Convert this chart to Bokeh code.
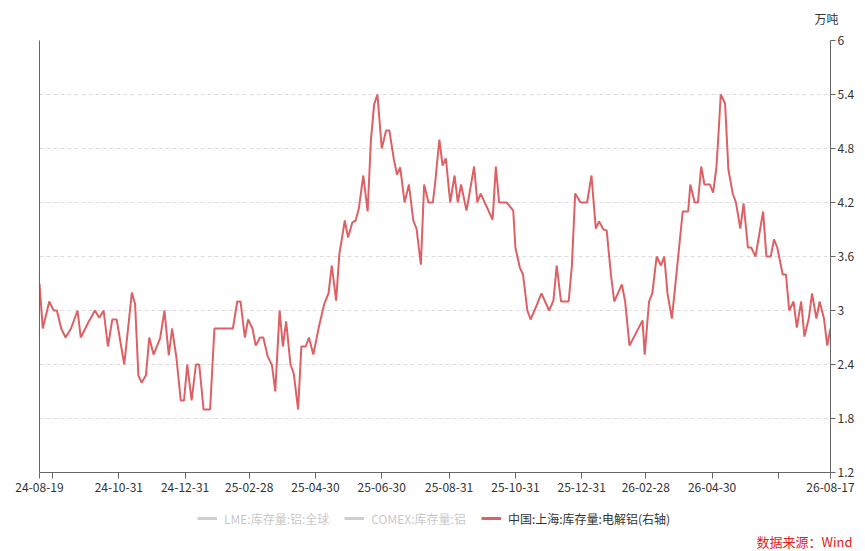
import pandas as pd
from bokeh.plotting import figure
from bokeh.layouts import column
from bokeh.models import (ColumnDataSource, Range1d, LinearAxis, FixedTicker,
                          Legend, LegendItem, Label, Grid)
from bokeh.embed import file_html
from bokeh.resources import INLINE

# ---------------- data ----------------
dates = [
    "2024-08-19", "2024-08-22", "2024-08-28", "2024-09-01", "2024-09-04", "2024-09-08",
    "2024-09-12", "2024-09-17", "2024-09-23", "2024-09-26", "2024-10-03", "2024-10-09",
    "2024-10-13", "2024-10-17", "2024-10-21", "2024-10-25", "2024-10-29", "2024-11-05",
    "2024-11-12", "2024-11-15", "2024-11-18", "2024-11-21", "2024-11-25", "2024-11-28",
    "2024-12-02", "2024-12-08", "2024-12-12", "2024-12-16", "2024-12-19", "2024-12-23",
    "2024-12-27", "2024-12-30", "2025-01-02", "2025-01-06", "2025-01-10", "2025-01-13",
    "2025-01-17", "2025-01-23", "2025-01-27", "2025-02-13", "2025-02-17", "2025-02-20",
    "2025-02-24", "2025-02-27", "2025-03-03", "2025-03-06", "2025-03-10", "2025-03-13",
    "2025-03-17", "2025-03-21", "2025-03-24", "2025-03-28", "2025-03-31", "2025-04-03",
    "2025-04-07", "2025-04-10", "2025-04-14", "2025-04-17", "2025-04-21", "2025-04-24",
    "2025-04-28", "2025-05-03", "2025-05-08", "2025-05-12", "2025-05-15", "2025-05-19",
    "2025-05-22", "2025-05-27", "2025-05-30", "2025-06-03", "2025-06-06", "2025-06-09",
    "2025-06-13", "2025-06-17", "2025-06-20", "2025-06-23", "2025-06-26", "2025-06-30",
    "2025-07-04", "2025-07-07", "2025-07-11", "2025-07-14", "2025-07-17", "2025-07-21",
    "2025-07-25", "2025-07-29", "2025-08-01", "2025-08-05", "2025-08-08", "2025-08-12",
    "2025-08-16", "2025-08-18", "2025-08-22", "2025-08-25", "2025-08-28", "2025-09-01",
    "2025-09-05", "2025-09-08", "2025-09-11", "2025-09-16", "2025-09-23", "2025-09-26",
    "2025-09-29", "2025-10-10", "2025-10-13", "2025-10-16", "2025-10-23", "2025-10-29",
    "2025-10-31", "2025-11-04", "2025-11-07", "2025-11-11", "2025-11-14", "2025-11-20",
    "2025-11-24", "2025-12-01", "2025-12-05", "2025-12-08", "2025-12-12", "2025-12-19",
    "2025-12-22", "2025-12-25", "2025-12-30", "2026-01-05", "2026-01-09", "2026-01-13",
    "2026-01-16", "2026-01-20", "2026-01-23", "2026-01-27", "2026-01-30", "2026-02-06",
    "2026-02-09", "2026-02-13", "2026-02-25", "2026-02-27", "2026-03-03", "2026-03-06",
    "2026-03-10", "2026-03-14", "2026-03-17", "2026-03-20", "2026-03-24", "2026-03-29",
    "2026-04-03", "2026-04-08", "2026-04-10", "2026-04-14", "2026-04-17", "2026-04-20",
    "2026-04-23", "2026-04-28", "2026-05-01", "2026-05-04", "2026-05-06", "2026-05-08",
    "2026-05-12", "2026-05-15", "2026-05-19", "2026-05-22", "2026-05-26", "2026-05-29",
    "2026-06-02", "2026-06-05", "2026-06-09", "2026-06-16", "2026-06-19", "2026-06-23",
    "2026-06-26", "2026-06-29", "2026-07-04", "2026-07-07", "2026-07-10", "2026-07-14",
    "2026-07-17", "2026-07-21", "2026-07-24", "2026-07-28", "2026-07-31", "2026-08-04",
    "2026-08-07", "2026-08-11", "2026-08-14", "2026-08-17",
]

shanghai_al = [
    3.30, 2.80, 3.10, 3.00, 3.00, 2.80, 2.70, 2.80, 3.00, 2.70, 2.87, 3.00,
    2.92, 3.00, 2.60, 2.90, 2.90, 2.40, 3.20, 3.07, 2.28, 2.20, 2.28, 2.70,
    2.51, 2.69, 3.00, 2.50, 2.80, 2.48, 2.00, 2.00, 2.40, 2.00, 2.40, 2.40,
    1.90, 1.90, 2.80, 2.80, 3.10, 3.10, 2.70, 2.90, 2.80, 2.61, 2.70, 2.70,
    2.49, 2.39, 2.10, 3.00, 2.60, 2.88, 2.40, 2.30, 1.90, 2.60, 2.60, 2.70,
    2.51, 2.81, 3.07, 3.19, 3.50, 3.11, 3.63, 4.00, 3.81, 3.98, 4.00, 4.14,
    4.50, 4.10, 4.89, 5.29, 5.40, 4.80, 5.00, 5.00, 4.69, 4.51, 4.59, 4.20,
    4.40, 4.00, 3.91, 3.51, 4.40, 4.20, 4.20, 4.40, 4.90, 4.61, 4.69, 4.20,
    4.50, 4.20, 4.40, 4.11, 4.60, 4.20, 4.30, 4.01, 4.60, 4.20, 4.20, 4.11,
    3.70, 3.48, 3.40, 3.00, 2.90, 3.07, 3.19, 3.00, 3.11, 3.50, 3.10, 3.10,
    3.50, 4.30, 4.20, 4.20, 4.50, 3.91, 3.99, 3.90, 3.89, 3.39, 3.10, 3.29,
    3.10, 2.61, 2.89, 2.51, 3.10, 3.19, 3.60, 3.50, 3.60, 3.19, 2.91, 3.50,
    4.10, 4.10, 4.40, 4.20, 4.20, 4.60, 4.40, 4.40, 4.31, 4.59, 4.98, 5.40,
    5.30, 4.57, 4.30, 4.20, 3.91, 4.19, 3.70, 3.70, 3.60, 4.10, 3.60, 3.60,
    3.79, 3.70, 3.40, 3.40, 3.00, 3.10, 2.81, 3.10, 2.71, 2.91, 3.19, 2.91,
    3.10, 2.91, 2.61, 2.80,
]

x_tick_dates = ["2024-08-19", "2024-08-31", "2024-10-31", "2024-12-31", "2025-02-28",
                "2025-04-30", "2025-06-30", "2025-08-31", "2025-10-31", "2025-12-31",
                "2026-02-28", "2026-04-30", "2026-06-30", "2026-08-17"]
x_tick_labels = ["24-08-19", "", "24-10-31", "24-12-31", "25-02-28",
                 "25-04-30", "25-06-30", "25-08-31", "25-10-31", "25-12-31",
                 "26-02-28", "26-04-30", "", "26-08-17"]

y_ticks = [1.2, 1.8, 2.4, 3.0, 3.6, 4.2, 4.8, 5.4, 6.0]
y_tick_labels = ["1.2", "1.8", "2.4", "3", "3.6", "4.2", "4.8", "5.4", "6"]

series_names = ["LME:库存量:铝:全球", "COMEX:库存量:铝", "中国:上海:库存量:电解铝(右轴)"]
series_visible = [False, False, True]   # LME and COMEX are switched off in the original
unit_text = "万吨"
source_text = "数据来源：Wind"

# ---------------- styling ----------------
FONT = "Noto Sans CJK SC"
RED = "#dd6164"
HIDDEN = "#555555"
AXIS = "#666666"
TEXT = "#333333"
W = 857
SHIFT = 39   # strip frames get aligned with the main chart's frame


def ms(d):
    return pd.Timestamp(d).value / 1e6


def blank_fig(h):
    f = figure(frame_width=W, frame_height=h, min_border=0,
               x_range=Range1d(0, W), y_range=Range1d(0, h),
               x_axis_location=None, y_axis_location=None,
               output_backend="svg", toolbar_location=None, tools="")
    f.outline_line_color = None
    f.grid.visible = False
    return f


src = ColumnDataSource(dict(x=pd.to_datetime(dates), y=shanghai_al))

# ---- top strip with unit ----
top = blank_fig(30)
top.add_layout(Label(x=826 - SHIFT, y=12, x_units="screen", y_units="screen",
                     text=unit_text, text_align="center",
                     text_baseline="middle", text_font=FONT,
                     text_font_size="12px", text_color=TEXT))

# ---- main chart ----
p = figure(frame_width=791, frame_height=432,
           min_border_left=39, min_border_right=27,
           min_border_top=10, min_border_bottom=30,
           x_axis_type="datetime", output_backend="svg",
           toolbar_location=None, tools="")
p.x_range = Range1d(pd.Timestamp(dates[0]), pd.Timestamp(dates[-1]))
p.y_range = Range1d(-1, 1)  # left axis (switched-off series)
p.extra_y_ranges = {"right": Range1d(1.2, 6.0)}
p.outline_line_color = None

la = p.yaxis[0]
la.ticker = FixedTicker(ticks=[])
la.axis_line_color = AXIS
la.major_tick_line_color = None
la.minor_tick_line_color = None
la.major_label_text_font_size = "0px"

ra = LinearAxis(y_range_name="right", ticker=FixedTicker(ticks=y_ticks))
ra.major_label_overrides = {t: l for t, l in zip(y_ticks, y_tick_labels)}
ra.axis_line_color = AXIS
ra.major_tick_line_color = AXIS
ra.major_tick_in = 0
ra.major_tick_out = 5
ra.minor_tick_line_color = None
ra.major_label_standoff = 2
ra.major_label_text_font = FONT
ra.major_label_text_font_size = "12px"
ra.major_label_text_color = TEXT
p.add_layout(ra, "right")

xa = p.xaxis[0]
xt = [ms(d) for d in x_tick_dates]
xa.ticker = FixedTicker(ticks=xt)
xa.major_label_overrides = {t: l for t, l in zip(xt, x_tick_labels)}
xa.axis_line_color = AXIS
xa.major_tick_line_color = AXIS
xa.major_tick_in = 0
xa.major_tick_out = 6
xa.minor_tick_line_color = None
xa.major_label_standoff = 4
xa.major_label_text_font = FONT
xa.major_label_text_font_size = "12px"
xa.major_label_text_color = TEXT

p.xgrid.visible = False
p.ygrid.visible = False
g = Grid(dimension=1, ticker=ra.ticker, y_range_name="right")
g.grid_line_color = "#dddddd"
g.grid_line_dash = "4 3"
g.grid_line_width = 1
p.add_layout(g)

p.line("x", "y", source=src, line_color=RED, line_width=2, y_range_name="right")

# ---- bottom strip with legend and source ----
bot = blank_fig(49)
leg_renderers = []
for name, vis, col in zip(series_names, series_visible, [HIDDEN, HIDDEN, RED]):
    # legend swatches only: the data lie far outside this strip's range
    r = bot.line("x", "y", source=src, line_color=col, line_width=3, visible=vis)
    leg_renderers.append(r)

legend = Legend(items=[LegendItem(label=n, renderers=[r])
                       for n, r in zip(series_names, leg_renderers)],
                location=(197, 23), orientation="horizontal",
                click_policy="hide", inactive_fill_color="white",
                inactive_fill_alpha=0.72,
                border_line_color=None, background_fill_alpha=0,
                padding=0, margin=0, glyph_width=20, glyph_height=20,
                label_height=20, label_standoff=7, spacing=15,
                label_text_font=FONT, label_text_font_size="12px",
                label_text_color=TEXT)
bot.add_layout(legend)
bot.add_layout(Label(x=852 - SHIFT, y=10, x_units="screen", y_units="screen",
                     text=source_text, text_align="right",
                     text_baseline="middle", text_font=FONT,
                     text_font_size="13px", text_color="#e02020"))

layout = column(top, p, bot, spacing=0)
open("out.html", "w").write(file_html(layout, INLINE))
